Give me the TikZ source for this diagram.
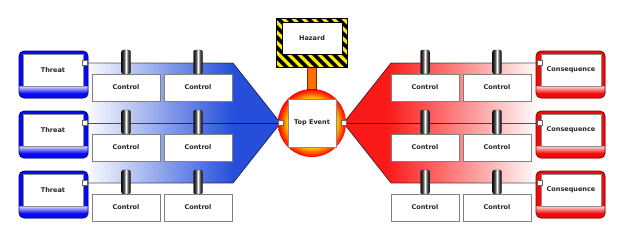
\documentclass[tikz,border=0pt]{standalone}
\usepackage{fontspec}
\setmainfont{DejaVu Sans}
\usetikzlibrary{shadows,calc}
\definecolor{bfill}{RGB}{38,78,218}
\definecolor{rfill}{RGB}{250,25,25}
\definecolor{tblue}{RGB}{10,10,240}
\definecolor{tdark}{RGB}{0,0,130}
\definecolor{cred}{RGB}{240,10,10}
\definecolor{cdark}{RGB}{140,0,0}
\definecolor{hyel}{RGB}{250,235,0}
\pgfdeclarehorizontalshading{blueshade}{100bp}{color(0bp)=(white); color(25bp)=(white); color(63bp)=(bfill); color(100bp)=(bfill)}
\pgfdeclarehorizontalshading{redshade}{100bp}{color(0bp)=(rfill); color(36bp)=(rfill); color(75bp)=(white); color(100bp)=(white)}
\pgfdeclarehorizontalshading{handlesh}{100bp}{color(0bp)=(black); color(25bp)=(black!95); color(38bp)=(black!70); color(50bp)=(white); color(62bp)=(black!70); color(75bp)=(black!95); color(100bp)=(black)}
\pgfdeclareradialshading{tevshade}{\pgfpoint{0bp}{0bp}}{color(0bp)=(yellow); color(18.5bp)=(orange!50!yellow); color(22.5bp)=(orange!55!red); color(25bp)=(red); color(50bp)=(red)}
\pgfdeclareverticalshading{threatsh}{100bp}{color(0bp)=(tblue); color(25bp)=(tblue); color(30bp)=(tblue); color(37.5bp)=(tblue!15); color(38.5bp)=(tblue); color(100bp)=(tblue)}
\pgfdeclareverticalshading{conssh}{100bp}{color(0bp)=(cred); color(25bp)=(cred); color(30bp)=(cred); color(37.5bp)=(cred!15); color(38.5bp)=(cred); color(100bp)=(cred)}
\begin{document}
\begin{tikzpicture}[x=1pt,y=-1pt,
  font=\fontsize{6.5}{7}\selectfont\bfseries,
  shadowed/.style={drop shadow={shadow xshift=1pt,shadow yshift=-1pt,opacity=0.3}},
  outerbox/.style={rounded corners=5pt,minimum width=69pt,minimum height=47pt,inner sep=0pt,line width=0.8pt,shadowed},
  threatbox/.style={outerbox,draw=tdark,shade,shading=threatsh},
  consbox/.style={outerbox,draw=cdark,shade,shading=conssh},
  inbox/.style={draw=black!45,fill=white,minimum width=60pt,minimum height=32pt,inner sep=0pt,line width=0.5pt,text=black!85},
  ctrl/.style={draw=black!50,fill=white,minimum width=68pt,minimum height=27pt,inner sep=0pt,line width=0.5pt,text=black!85,shadowed},
  handle/.style={draw=black!85,rounded corners=2pt,minimum width=9pt,minimum height=24pt,inner sep=0pt,shade,shading=handlesh,line width=0.4pt},
  port/.style={draw=black!60,fill=white,minimum size=5pt,inner sep=0pt,line width=0.4pt},
  conn/.style={draw=black,draw opacity=0.65,line width=0.8pt,line join=miter}
]
\useasboundingbox (0,0) rectangle (623,234);
% coordinates
\coordinate (ka) at (233,63);
\coordinate (kb) at (233,183);
\coordinate (kc) at (391,63);
\coordinate (kd) at (391,183);
\foreach \L [count=\i] in {63,123,183}{
  \coordinate (tp\i) at (84.5,\L);
  \coordinate (cp\i) at (539.5,\L);
}
\coordinate (lp) at (280.5,123);
\coordinate (rp) at (343.5,123);
% wedges
\shade[shading=blueshade] (tp1) -- (ka) -- (lp) -- (kb) -- (tp3) -- cycle;
\shade[shading=redshade] (cp1) -- (kc) -- (rp) -- (kd) -- (cp3) -- cycle;
% connectors
\draw[conn] (tp1) -- (ka) -- (lp);
\draw[conn] (tp2) -- (lp);
\draw[conn] (tp3) -- (kb) -- (lp);
\draw[conn] (cp1) -- (kc) -- (rp);
\draw[conn] (cp2) -- (rp);
\draw[conn] (cp3) -- (kd) -- (rp);
% rows
\foreach \L [count=\i] in {63,123,183}{
  \node[handle] (hla\i) at (126,\L-1) {};
  \node[handle] (hlb\i) at (198,\L-1) {};
  \node[handle] (hra\i) at (425,\L-1) {};
  \node[handle] (hrb\i) at (497,\L-1) {};
  \node[ctrl] (cla\i) at (126,\L+24.5) {Control};
  \node[ctrl] (clb\i) at (198,\L+24.5) {Control};
  \node[ctrl] (cra\i) at (425,\L+24.5) {Control};
  \node[ctrl] (crb\i) at (497,\L+24.5) {Control};
  \node[threatbox] (tho\i) at (53.5,\L+11.5) {};
  \node[inbox] (th\i) at (53,\L+7) {Threat};
  \node[port] (tpb\i) at (tp\i) {};
  \node[consbox] (cso\i) at (570.5,\L+11.5) {};
  \node[inbox] (cs\i) at (571,\L+7) {Consequence};
  \node[port] (cpb\i) at (cp\i) {};
}
% top event
\node[circle,minimum size=68pt,inner sep=0pt,shade,shading=tevshade] (te) at (312,123) {};
\node[inbox,minimum width=48pt,minimum height=48pt,shadowed] (tebox) at (te) {Top Event};
\node[port] (lpb) at (lp) {};
\node[port] (rpb) at (rp) {};
% hazard
\node[minimum width=70pt,minimum height=48pt,inner sep=0pt] (hz) at (312,43) {};
\shade[left color=orange!85!red,middle color=yellow!60!orange,right color=orange!85!red,draw=orange!40!black,line width=0.4pt]
  ($(hz.south)+(-4.5,0)$) rectangle ($(te.north)+(4.5,0)$);
\begin{scope}
  \clip (hz.south west) rectangle (hz.north east);
  \fill[hyel] (hz.south west) rectangle (hz.north east);
  \foreach \k in {0,...,14}
    \fill[black] (226+\k*10,19) -- ++(5,0) -- ++(48,48) -- ++(-5,0) -- cycle;
\end{scope}
\draw[black,line width=0.8pt] (hz.south west) rectangle (hz.north east);
\node[inbox,draw=black,line width=0.7pt] (hzin) at (312,38.5) {Hazard};
\end{tikzpicture}
\end{document}
